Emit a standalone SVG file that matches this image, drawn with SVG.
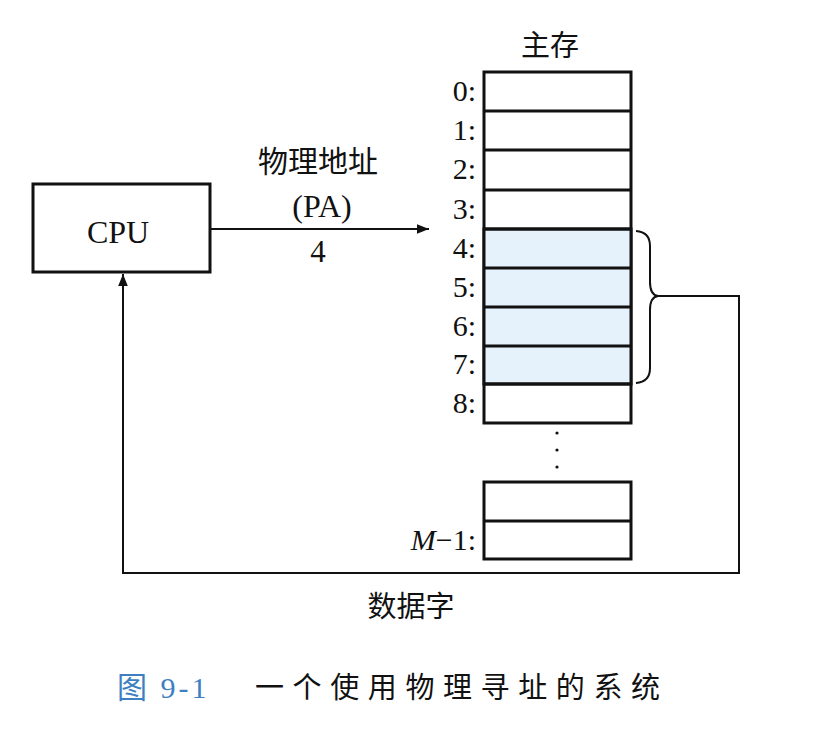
<svg xmlns="http://www.w3.org/2000/svg" width="815" height="734" viewBox="0 0 815 734">
<style>
.lat{font-family:"Liberation Serif","Noto Sans CJK SC",serif;fill:#111}
.cjk{font-family:"Noto Sans CJK SC","Liberation Serif",serif;fill:#111}
.box{fill:#fff;stroke:#111;stroke-width:3}
.hl{fill:#e6f2fb;stroke:#111;stroke-width:3}
.cell{stroke:#111;stroke-width:3}
.conn{fill:none;stroke:#111;stroke-width:2}
.lbl{font-size:30px;text-anchor:end}
</style>
<defs>
<marker id="ah" viewBox="0 0 10 10" refX="10" refY="5" markerWidth="12" markerHeight="12" markerUnits="userSpaceOnUse" orient="auto">
<path d="M0,1 L10,5 L0,9 z" fill="#111"/>
</marker>
</defs>
<rect width="815" height="734" fill="#fff"/>

<g id="cpu">
<rect class="box" x="33" y="184" width="177" height="88"/>
<text class="lat" x="118" y="243" font-size="32" text-anchor="middle">CPU</text>
</g>

<g id="memory">
<text class="cjk" x="550" y="56" font-size="29" text-anchor="middle">主存</text>
<rect class="box" x="484" y="72" width="147" height="351"/>
<rect class="hl" x="484" y="229" width="147" height="155"/>
<line class="cell" x1="484" y1="111" x2="631" y2="111"/>
<line class="cell" x1="484" y1="150" x2="631" y2="150"/>
<line class="cell" x1="484" y1="190" x2="631" y2="190"/>
<line class="cell" x1="484" y1="229" x2="631" y2="229"/>
<line class="cell" x1="484" y1="268" x2="631" y2="268"/>
<line class="cell" x1="484" y1="307" x2="631" y2="307"/>
<line class="cell" x1="484" y1="346" x2="631" y2="346"/>
<line class="cell" x1="484" y1="384" x2="631" y2="384"/>
<text class="lat lbl" x="476" y="101">0:</text>
<text class="lat lbl" x="476" y="140">1:</text>
<text class="lat lbl" x="476" y="179">2:</text>
<text class="lat lbl" x="476" y="219">3:</text>
<text class="lat lbl" x="476" y="258">4:</text>
<text class="lat lbl" x="476" y="297">5:</text>
<text class="lat lbl" x="476" y="336">6:</text>
<text class="lat lbl" x="476" y="374">7:</text>
<text class="lat lbl" x="476" y="413">8:</text>
<circle cx="557" cy="433" r="1.6" fill="#111"/>
<circle cx="557" cy="450" r="1.6" fill="#111"/>
<circle cx="557" cy="467" r="1.6" fill="#111"/>
<rect class="box" x="484" y="482" width="147" height="77"/>
<line class="cell" x1="484" y1="521" x2="631" y2="521"/>
<text class="lat lbl" x="476" y="550"><tspan font-style="italic">M</tspan>−1:</text>
</g>

<g id="brace">
<path class="conn" d="M636,231 Q650,232 650,246 L650,282 Q650,295 658,296 Q650,297 650,310 L650,368 Q650,382 636,383"/>
</g>

<g id="connectors">
<line class="conn" x1="211" y1="229" x2="429" y2="229" marker-end="url(#ah)"/>
<polyline class="conn" points="658,296 739,296 739,573 123,573 123,274" marker-end="url(#ah)"/>
</g>

<g id="labels">
<text class="cjk" x="318" y="172" font-size="30" text-anchor="middle">物理地址</text>
<text class="lat" x="322" y="217" font-size="32" text-anchor="middle">(PA)</text>
<text class="lat" x="318" y="262" font-size="31" text-anchor="middle">4</text>
<text class="cjk" x="411" y="617" font-size="29" text-anchor="middle">数据字</text>
</g>

<g id="caption">
<text class="lat" x="117" y="698" font-size="30" letter-spacing="3" style="fill:#3d7fc1">图 9-1</text>
<text class="cjk" x="255" y="698" font-size="29" letter-spacing="8.6">一个使用物理寻址的系统</text>
</g>
</svg>
